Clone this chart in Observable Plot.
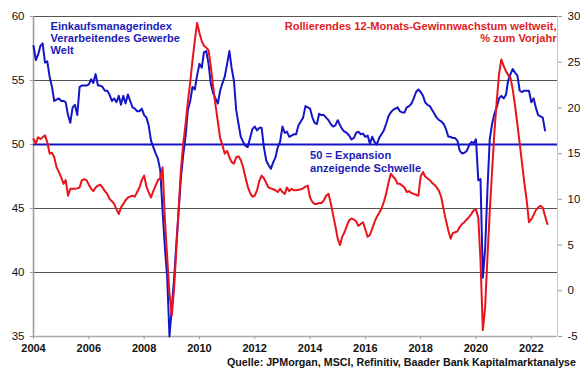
<!DOCTYPE html>
<html><head><meta charset="utf-8">
<script src="https://cdn.jsdelivr.net/npm/d3@7"></script>
<script src="https://cdn.jsdelivr.net/npm/@observablehq/plot@0.6"></script>
<style>
body{margin:0;background:#fff;font-family:"Liberation Sans",Arial,sans-serif;}
#chart{width:580px;}
#chart svg{display:block;}
.caption{width:576px;text-align:right;font-weight:bold;font-size:10.7px;line-height:12px;color:#111;white-space:nowrap;}
</style></head><body><div id="chart"></div>
<script>
// Monthly series starting January 2004
const startMonth = "2004-01";
const endOfAxis = "2022-12-13";

// JPMorgan Global Manufacturing PMI (left axis)
const pmi = [
 57.7,56.6,57.0,57.7,57.9,56.4,56.5,55.3,54.5,53.4,53.5,53.6,
 53.4,53.4,53.3,52.3,51.7,52.9,53.1,52.3,54.5,54.6,54.6,54.6,
 54.7,55.1,54.8,55.5,54.6,54.6,54.5,54.2,54.2,53.9,53.4,53.6,
 53.3,53.8,53.1,53.8,53.2,53.9,53.4,52.9,52.8,52.6,52.6,52.8,
 52.3,52.1,51.5,50.3,49.8,49.3,48.9,48.0,44.8,42.0,39.6,35.0,
 37.3,39.6,42.2,44.8,47.4,49.2,50.6,52.7,53.4,54.5,54.3,55.4,
 56.3,56.0,57.2,57.3,56.3,54.7,54.0,53.6,53.2,54.2,54.8,55.3,
 56.3,57.3,56.0,55.0,52.7,51.6,50.6,50.2,49.9,49.8,50.5,51.2,
 51.4,51.1,51.3,51.3,49.8,48.75,48.4,48.1,48.6,49.0,49.8,50.2,
 51.4,50.9,51.0,50.6,50.7,50.8,50.8,51.5,51.8,52.1,53.0,52.9,
 52.8,52.1,51.7,51.6,52.4,52.3,52.3,52.1,51.9,51.6,51.4,51.5,
 51.9,51.5,51.2,51.0,50.9,50.7,50.4,50.5,50.9,51.0,50.8,50.85,
 50.6,50.7,50.05,50.6,50.2,50.0,50.5,50.8,51.1,51.6,52.2,52.5,
 52.7,52.8,52.9,52.6,52.5,52.5,52.9,53.0,53.2,53.6,54.1,54.3,
 54.1,53.8,53.3,53.1,53.0,52.7,52.4,52.1,51.9,51.8,51.6,51.2,
 50.6,50.6,50.5,50.5,50.3,49.5,49.3,49.35,49.5,49.9,50.2,50.1,
 50.4,47.2,47.3,39.6,41.8,46.5,50.4,51.6,52.4,52.9,53.6,53.8,
 53.6,53.9,55.0,55.5,55.9,55.6,55.4,54.2,54.1,54.2,54.2,54.2,
 53.3,53.6,52.9,52.3,52.2,52.1,51.1
];

// Rolling 12-month earnings growth worldwide, % yoy (right axis)
const earnings = [
 16.6,16.1,16.8,16.6,16.8,17.0,16.25,15.0,15.1,14.6,13.5,13.0,
 12.4,11.7,12.1,10.4,11.15,11.15,11.15,11.2,11.3,12.1,12.2,12.1,
 11.6,11.15,10.9,11.3,11.5,11.6,11.3,10.9,10.6,10.05,9.8,9.5,
 8.9,8.4,9.1,9.5,9.9,10.2,10.3,10.4,10.3,10.8,11.3,12.1,
 12.6,11.4,10.8,10.2,10.9,11.5,12.1,12.3,13.5,7.9,3.6,-0.3,
 -2.7,0.4,4.4,8.9,13.2,16.1,18.2,20.7,22.8,25.2,27.4,29.3,
 28.2,27.3,26.8,26.6,26.3,24.5,22.3,20.3,18.5,16.7,15.9,15.0,
 15.3,14.6,14.1,13.9,14.6,14.7,14.3,13.5,12.4,11.4,10.7,10.3,
 10.4,11.0,12.0,12.6,12.3,11.8,11.3,11.2,11.1,11.0,10.8,11.15,
 10.8,10.6,11.3,10.9,11.15,11.0,11.0,11.05,11.1,11.2,11.4,11.5,
 10.2,9.7,9.5,9.5,9.6,9.6,9.9,10.4,10.6,9.6,8.3,7.1,
 5.7,5.0,5.9,6.4,7.1,7.7,7.9,7.8,7.6,7.1,7.3,7.5,
 6.7,5.9,6.1,6.8,7.5,8.1,8.5,9.0,9.7,10.6,11.8,12.8,
 12.5,12.2,11.7,11.7,11.5,11.3,10.8,10.9,10.7,10.6,10.5,10.4,
 12.5,13.0,12.5,12.3,12.1,11.8,11.6,11.3,10.9,10.2,8.85,7.7,
 6.6,5.7,6.3,6.4,6.5,7.0,7.3,7.5,7.8,8.05,8.4,8.8,
 8.9,8.0,3.3,-4.3,-1.8,3.7,8.6,13.1,17.4,20.7,23.7,25.3,
 24.6,24.0,23.6,23.3,22.0,20.2,18.2,16.1,13.9,11.8,9.9,7.5,
 7.8,8.3,8.8,9.1,9.3,9.1,8.2,7.3
];

const leftTicks = [35, 40, 45, 50, 55, 60];
const rightTicks = [-5, 0, 5, 10, 15, 20, 25, 30];
const gridLevels = [40, 45, 55, 60];
const threshold = 50;
const tickYears = [2004, 2006, 2008, 2010, 2012, 2014, 2016, 2018, 2020, 2022];

const pmiLabel = "Einkaufsmanagerindex\nVerarbeitendes Gewerbe\nWelt";
const earningsLabel = "Rollierendes 12-Monats-Gewinnwachstum weltweit,\n% zum Vorjahr";
const thresholdLabel = "50 = Expansion\nanzeigende Schwelle";
const thresholdLabelDate = "2014-01-01";
const sourceText = "Quelle: JPMorgan, MSCI, Refinitiv, Baader Bank Kapitalmarktanalyse";

const BLUE = "#1515c8", BLUE_TXT = "#1c1cb8", RED = "#e8141b", RED_TXT = "#e01e1e";

// map right-axis values (-5..30) onto left-axis domain (35..60)
const toLeft = v => 35 + (v + 5) * 25 / 35;
const fromLeft = y => (y - 35) * 35 / 25 - 5;

const start = d3.utcParse("%Y-%m")(startMonth);
const pmiData = pmi.map((v, i) => ({date: d3.utcMonth.offset(start, i), value: v}));
const earnData = earnings.map((v, i) => ({date: d3.utcMonth.offset(start, i), value: v}));
const xStart = start;
const xEnd = new Date(endOfAxis);

const chart = Plot.plot({
  width: 580, height: 356,
  marginLeft: 33, marginRight: 23, marginTop: 16, marginBottom: 20,
  style: {fontFamily: "'Liberation Sans', Arial, sans-serif", background: "#fff", color: "#111"},
  x: {type: "utc", domain: [xStart, xEnd]},
  y: {domain: [35, 60]},
  marks: [
    Plot.ruleY(gridLevels, {stroke: "#555", strokeWidth: 1}),
    Plot.ruleX([xEnd], {stroke: "#c8c8c8", strokeWidth: 1}),
    Plot.ruleX([xStart], {stroke: "#999", strokeWidth: 1.5}),
    Plot.ruleY([35], {stroke: "#aaa", strokeWidth: 1.5}),
    Plot.ruleY([threshold], {stroke: BLUE, strokeWidth: 2}),
    Plot.line(pmiData, {x: "date", y: "value", stroke: BLUE, strokeWidth: 2}),
    Plot.line(earnData, {x: "date", y: d => toLeft(d.value), stroke: RED, strokeWidth: 2}),
    Plot.text([pmiLabel], {frameAnchor: "top-left", dx: 17, dy: 4.7, text: d => d, lineAnchor: "top", textAnchor: "start",
      fill: BLUE_TXT, fontWeight: "bold", fontSize: 11.1, lineHeight: 1.09}),
    Plot.text([earningsLabel], {frameAnchor: "top-right", dx: -1, dy: 4.5, text: d => d, lineAnchor: "top", textAnchor: "end",
      fill: RED_TXT, fontWeight: "bold", fontSize: 11.1, lineHeight: 1.13}),
    Plot.text([thresholdLabel], {x: () => new Date(thresholdLabelDate), y: () => threshold, dy: 6, text: d => d, lineAnchor: "top", textAnchor: "start",
      fill: BLUE_TXT, fontWeight: "bold", fontSize: 11.1, lineHeight: 1.13}),
    Plot.axisX({ticks: tickYears.map(y => new Date(Date.UTC(y, 0, 1))), tickFormat: d3.utcFormat("%Y"),
      tickSize: 3, tickPadding: 5, fontSize: 11, fontWeight: "bold", stroke: "#999", fill: "#111", label: null}),
    Plot.axisY({ticks: leftTicks, tickSize: 3, tickPadding: 6, fontSize: 11.5, stroke: "#999", fill: "#111", label: null}),
    Plot.axisY({anchor: "right", ticks: rightTicks.map(toLeft), tickFormat: d => String(Math.round(fromLeft(d))),
      tickSize: 4, tickPadding: 6, fontSize: 11.5, stroke: "#999", fill: "#111", label: null})
  ]
});
document.getElementById("chart").appendChild(chart);
const cap = document.createElement("div");
cap.className = "caption";
cap.textContent = sourceText;
document.getElementById("chart").appendChild(cap);
</script>
</body></html>
